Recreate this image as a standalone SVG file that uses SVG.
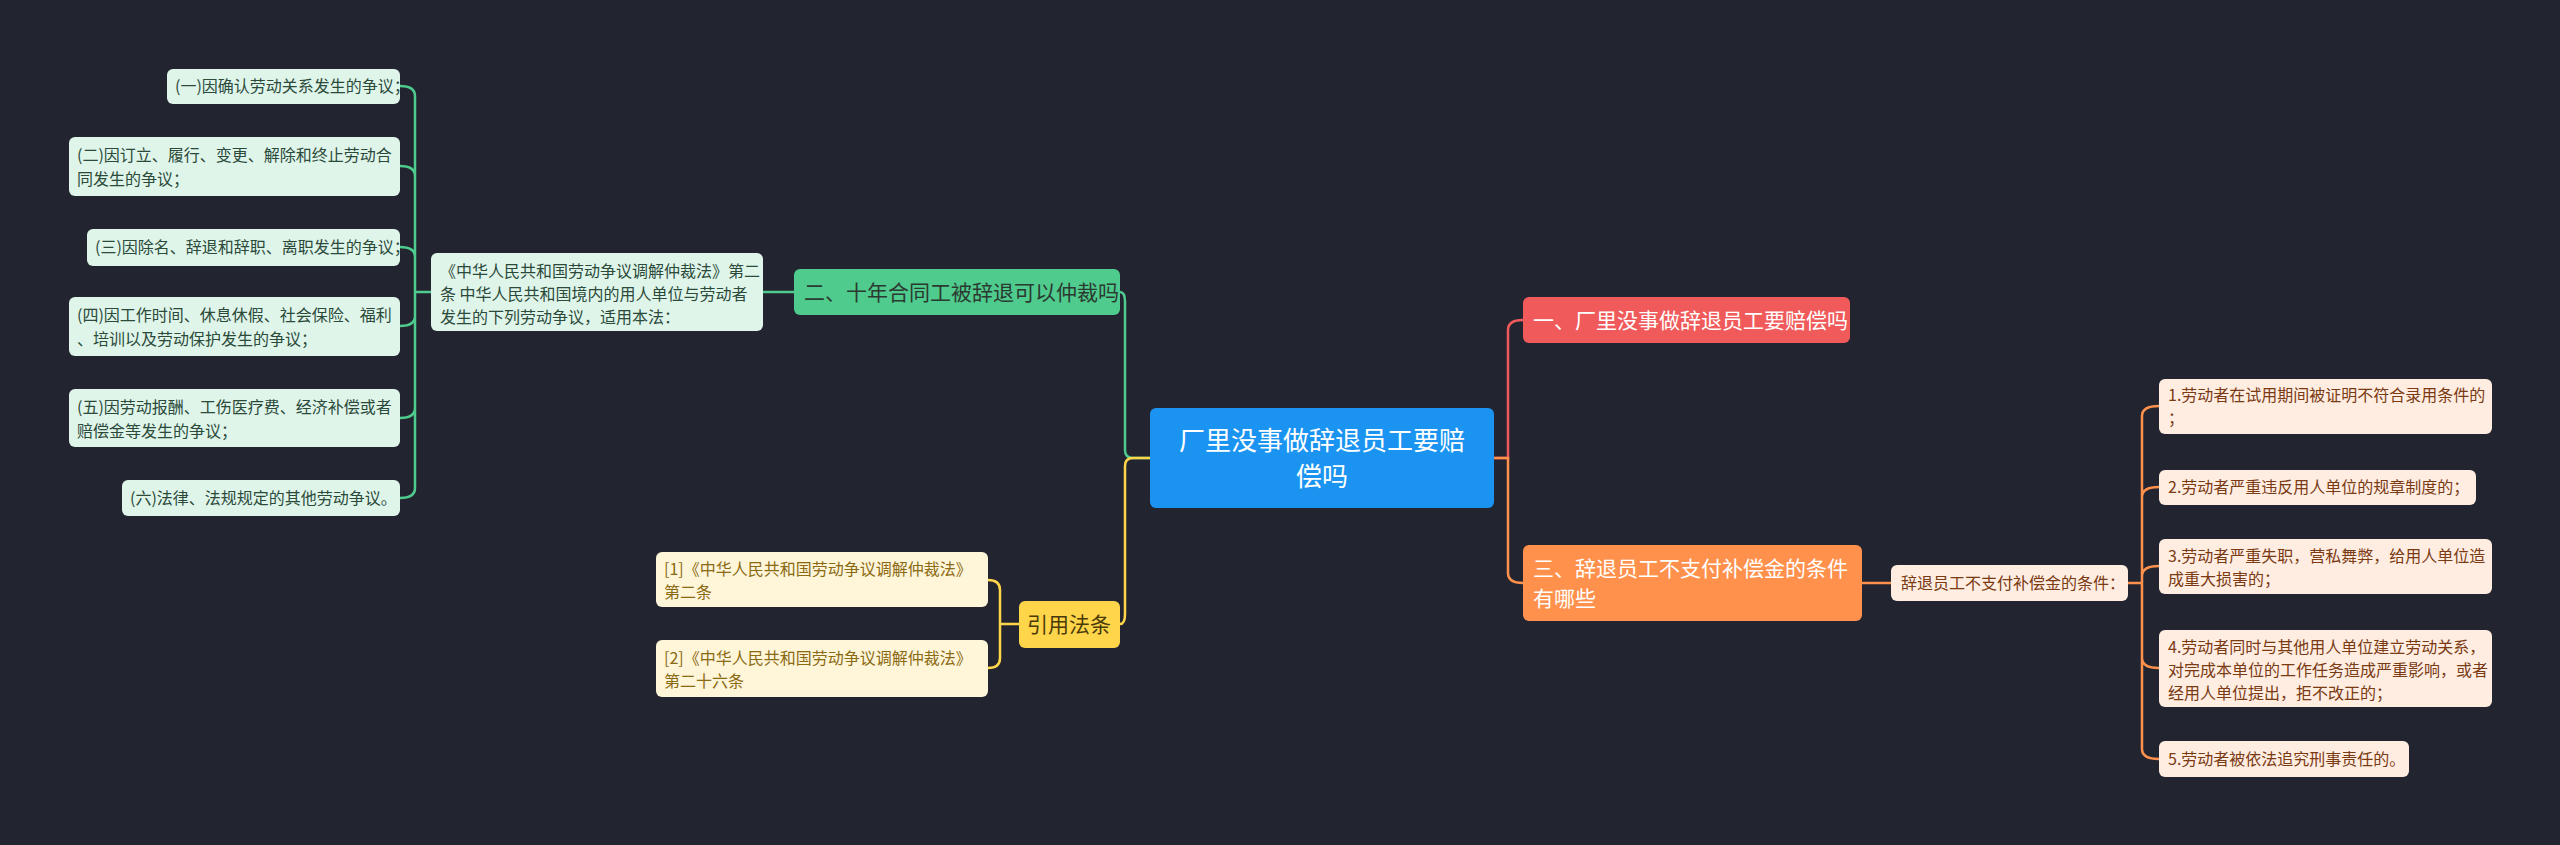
<svg xmlns="http://www.w3.org/2000/svg" width="2560" height="845" viewBox="0 0 2560 845">
<style>
text{font-family:"Noto Sans CJK SC","Noto Sans",sans-serif}
.lf{font-size:16px}
.g rect{fill:#dff5ea}.g text{fill:#2b4a3a}
.y rect{fill:#fff5d9}.y text{fill:#8a6a12}
.o rect{fill:#ffede2}.o text{fill:#7a3a12}
.c path{fill:none;stroke-width:2.5}
</style>
<rect width="2560" height="845" fill="#22252f"/>
<g class="c">
<path d="M1150 458 H1133 Q1125 458 1125 450 V302 Q1125 292 1120 292" stroke="#4ecb8d"/>
<path d="M1150 458 H1133 Q1125 458 1125 466 V614 Q1125 624 1120 624" stroke="#ffd54a"/>
<path d="M1494 458 H1508 V330 Q1508 320 1523 320" stroke="#f05a5a"/>
<path d="M1494 458 H1508 V573 Q1508 583 1523 583" stroke="#ff914d"/>
<path d="M1862 583 H1891" stroke="#ff914d"/>
<path d="M2128 583 H2142 M2142 583 V416 Q2142 406 2159 406 M2142 583 V497 Q2142 487 2159 487 M2142 583 V576 Q2142 566 2159 566 M2142 583 V658 Q2142 668 2159 668 M2142 583 V749 Q2142 759 2159 759" stroke="#ff914d"/>
<path d="M794 292 H763" stroke="#4ecb8d"/>
<path d="M431 292 H415 M415 292 V96 Q415 86 400 86 M415 292 V176 Q415 166 400 166 M415 292 V257 Q415 247 400 247 M415 292 V316 Q415 326 400 326 M415 292 V408 Q415 418 400 418 M415 292 V488 Q415 498 400 498" stroke="#4ecb8d"/>
<path d="M1019 624 H1000 M1000 624 V590 Q1000 580 988 580 M1000 624 V658 Q1000 668 988 668" stroke="#ffd54a"/>
</g>
<g id="center"><rect x="1150" y="408" width="344" height="100" rx="6" fill="#1a94f0"/><text x="1322" y="450" font-size="26" fill="#fff" text-anchor="middle">厂里没事做辞退员工要赔</text><text x="1322" y="486" font-size="26" fill="#fff" text-anchor="middle">偿吗</text></g>
<g id="n1"><rect x="1523" y="297" width="327" height="46" rx="6" fill="#f05a5a"/><text x="1533" y="328" font-size="21" fill="#fff">一、厂里没事做辞退员工要赔偿吗</text></g>
<g id="n3"><rect x="1523" y="545" width="339" height="76" rx="6" fill="#ff914d"/><text x="1533" y="576" font-size="21" fill="#fff">三、辞退员工不支付补偿金的条件</text><text x="1533" y="606" font-size="21" fill="#fff">有哪些</text></g>
<g id="n3a" class="o lf"><rect x="1891" y="565" width="237" height="36" rx="6"/><text x="1901" y="589">辞退员工不支付补偿金的条件：</text></g>
<g id="r1" class="o lf"><rect x="2159" y="379" width="333" height="55" rx="6"/><text x="2168" y="401">1.劳动者在试用期间被证明不符合录用条件的</text><text x="2168" y="424">；</text></g>
<g id="r2" class="o lf"><rect x="2159" y="470" width="317" height="35" rx="6"/><text x="2168" y="493">2.劳动者严重违反用人单位的规章制度的；</text></g>
<g id="r3" class="o lf"><rect x="2159" y="539" width="333" height="55" rx="6"/><text x="2168" y="562">3.劳动者严重失职，营私舞弊，给用人单位造</text><text x="2168" y="585">成重大损害的；</text></g>
<g id="r4" class="o lf"><rect x="2159" y="630" width="333" height="77" rx="6"/><text x="2168" y="653">4.劳动者同时与其他用人单位建立劳动关系，</text><text x="2168" y="676">对完成本单位的工作任务造成严重影响，或者</text><text x="2168" y="699">经用人单位提出，拒不改正的；</text></g>
<g id="r5" class="o lf"><rect x="2159" y="741" width="250" height="36" rx="6"/><text x="2168" y="765">5.劳动者被依法追究刑事责任的。</text></g>
<g id="n2"><rect x="794" y="269" width="326" height="46" rx="6" fill="#4ecb8d"/><text x="804" y="300" font-size="21" fill="#2b3a30">二、十年合同工被辞退可以仲裁吗</text></g>
<g id="art" class="g lf"><rect x="431" y="253" width="332" height="78" rx="6"/><text x="440" y="277">《中华人民共和国劳动争议调解仲裁法》第二</text><text x="440" y="300">条 中华人民共和国境内的用人单位与劳动者</text><text x="440" y="323">发生的下列劳动争议，适用本法：</text></g>
<g id="l1" class="g lf"><rect x="167" y="69" width="233" height="35" rx="6"/><text x="175" y="92">(一)因确认劳动关系发生的争议；</text></g>
<g id="l2" class="g lf"><rect x="69" y="137" width="331" height="59" rx="6"/><text x="77" y="161">(二)因订立、履行、变更、解除和终止劳动合</text><text x="77" y="185">同发生的争议；</text></g>
<g id="l3" class="g lf"><rect x="87" y="229" width="313" height="37" rx="6"/><text x="95" y="253">(三)因除名、辞退和辞职、离职发生的争议；</text></g>
<g id="l4" class="g lf"><rect x="69" y="297" width="331" height="59" rx="6"/><text x="77" y="321">(四)因工作时间、休息休假、社会保险、福利</text><text x="77" y="345">、培训以及劳动保护发生的争议；</text></g>
<g id="l5" class="g lf"><rect x="69" y="389" width="331" height="58" rx="6"/><text x="77" y="413">(五)因劳动报酬、工伤医疗费、经济补偿或者</text><text x="77" y="437">赔偿金等发生的争议；</text></g>
<g id="l6" class="g lf"><rect x="122" y="480" width="278" height="36" rx="6"/><text x="130" y="504">(六)法律、法规规定的其他劳动争议。</text></g>
<g id="cite"><rect x="1019" y="601" width="101" height="47" rx="6" fill="#ffd54a"/><text x="1069" y="632" font-size="21" fill="#4a3a08" text-anchor="middle">引用法条</text></g>
<g id="c1" class="y lf"><rect x="656" y="552" width="332" height="55" rx="6"/><text x="664" y="575">[1]《中华人民共和国劳动争议调解仲裁法》</text><text x="664" y="598">第二条</text></g>
<g id="c2" class="y lf"><rect x="656" y="640" width="332" height="57" rx="6"/><text x="664" y="664">[2]《中华人民共和国劳动争议调解仲裁法》</text><text x="664" y="687">第二十六条</text></g>
</svg>
